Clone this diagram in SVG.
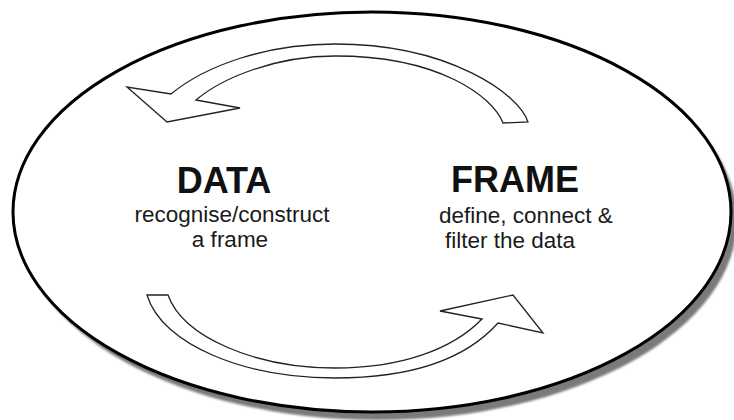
<svg xmlns="http://www.w3.org/2000/svg" width="734" height="420" viewBox="0 0 734 420">
  <defs>
    <filter id="soft" x="-5%" y="-5%" width="110%" height="110%">
      <feGaussianBlur stdDeviation="1.2"/>
    </filter>
    <style>
      .title { font-family: "Liberation Sans", Arial, sans-serif; font-weight: bold; font-size: 36px; fill: #111; }
      .sub { font-family: "Liberation Sans", Arial, sans-serif; font-size: 22.5px; fill: #1a1a1a; }
      .arrow { fill: #fff; stroke: #222; stroke-width: 1.3; stroke-linejoin: miter; }
    </style>
  </defs>
  <rect width="734" height="420" fill="#fff"/>
  <g id="background">
    <ellipse cx="378" cy="220" rx="359" ry="200" fill="#7a7a7a" filter="url(#soft)"/>
    <ellipse cx="372" cy="212" rx="359" ry="200" fill="#fff" stroke="#000" stroke-width="3"/>
  </g>
  <g id="connectors">
    <path id="arrow-frame-to-data" class="arrow" d="M528,122 C520,95 450,44 335,44 C265,44 205,66 171,94 L127,87 L167,122 L240,108 L196,100 C222,78 275,56 335,56 C440,56 493,97 503,123 Z"/>
    <path id="arrow-data-to-frame" class="arrow" d="M147,295 C162,345 245,378 335,378 C410,378 465,360 498,323 L543,333 L513,295 L440,311 L482,319 C452,350 400,368 335,368 C255,368 183,337 168,295 Z"/>
  </g>
  <g id="node-data">
    <text class="title" x="224" y="193" text-anchor="middle">DATA</text>
    <text class="sub" x="232" y="222" text-anchor="middle">recognise/construct</text>
    <text class="sub" x="230" y="247" text-anchor="middle">a frame</text>
  </g>
  <g id="node-frame">
    <text class="title" x="515" y="192" text-anchor="middle">FRAME</text>
    <text class="sub" x="439" y="223">define, connect &amp;</text>
    <text class="sub" x="445" y="248">filter the data</text>
  </g>
</svg>
